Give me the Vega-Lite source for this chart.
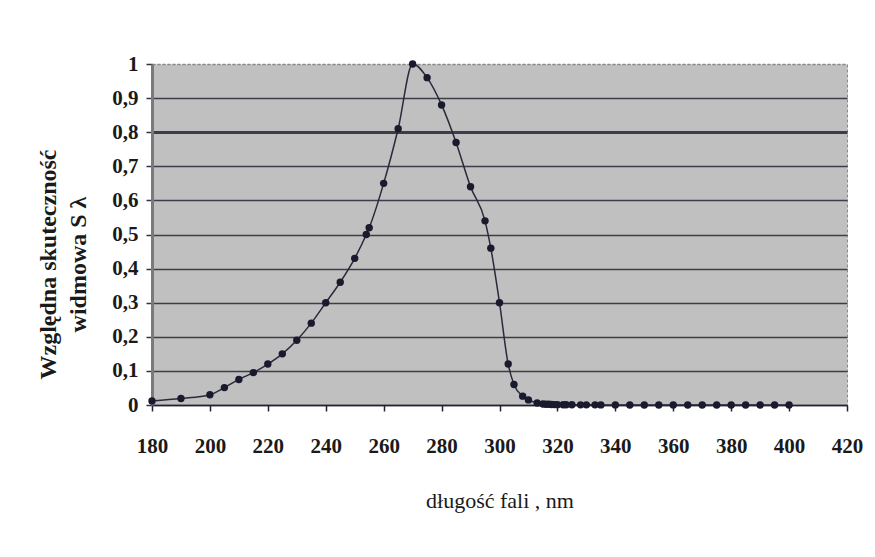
{
  "$schema": "https://vega.github.io/schema/vega-lite/v6.json",
  "width": 695,
  "height": 341,
  "autosize": {"type": "none"},
  "padding": {"left": 152, "top": 64, "right": 28, "bottom": 152},
  "background": "white",
  "config": {
    "font": "Liberation Serif",
    "view": {"fill": "#c0c0c0", "stroke": "#8a8a8a", "strokeDash": [3, 2], "strokeWidth": 1}
  },
  "data": {
    "values": [
      {"nm": 180, "S": 0.012}, {"nm": 190, "S": 0.019}, {"nm": 200, "S": 0.03},
      {"nm": 205, "S": 0.051}, {"nm": 210, "S": 0.075}, {"nm": 215, "S": 0.095},
      {"nm": 220, "S": 0.12}, {"nm": 225, "S": 0.15}, {"nm": 230, "S": 0.19},
      {"nm": 235, "S": 0.24}, {"nm": 240, "S": 0.3}, {"nm": 245, "S": 0.36},
      {"nm": 250, "S": 0.43}, {"nm": 254, "S": 0.5}, {"nm": 255, "S": 0.52},
      {"nm": 260, "S": 0.65}, {"nm": 265, "S": 0.81}, {"nm": 270, "S": 1.0},
      {"nm": 275, "S": 0.96}, {"nm": 280, "S": 0.88}, {"nm": 285, "S": 0.77},
      {"nm": 290, "S": 0.64}, {"nm": 295, "S": 0.54}, {"nm": 297, "S": 0.46},
      {"nm": 300, "S": 0.3}, {"nm": 303, "S": 0.12}, {"nm": 305, "S": 0.06},
      {"nm": 308, "S": 0.026}, {"nm": 310, "S": 0.015}, {"nm": 313, "S": 0.006},
      {"nm": 315, "S": 0.003}, {"nm": 316, "S": 0.0024}, {"nm": 317, "S": 0.002},
      {"nm": 318, "S": 0.0016}, {"nm": 319, "S": 0.0012}, {"nm": 320, "S": 0.001},
      {"nm": 322, "S": 0.00067}, {"nm": 323, "S": 0.00054}, {"nm": 325, "S": 0.0005},
      {"nm": 328, "S": 0.00044}, {"nm": 330, "S": 0.00041}, {"nm": 333, "S": 0.00037},
      {"nm": 335, "S": 0.00034}, {"nm": 340, "S": 0.00028}, {"nm": 345, "S": 0.00024},
      {"nm": 350, "S": 0.0002}, {"nm": 355, "S": 0.00016}, {"nm": 360, "S": 0.00013},
      {"nm": 365, "S": 0.00011}, {"nm": 370, "S": 0.000093}, {"nm": 375, "S": 0.000077},
      {"nm": 380, "S": 0.000064}, {"nm": 385, "S": 0.000053}, {"nm": 390, "S": 0.000044},
      {"nm": 395, "S": 0.000036}, {"nm": 400, "S": 0.00003}
    ]
  },
  "encoding": {
    "x": {
      "field": "nm",
      "type": "quantitative",
      "scale": {"domain": [180, 420], "nice": false, "zero": false},
      "axis": {
        "values": [180, 200, 220, 240, 260, 280, 300, 320, 340, 360, 380, 400, 420],
        "grid": false,
        "labelFlush": false,
        "labelOverlap": false,
        "tickSize": 6,
        "tickColor": "#222233",
        "tickWidth": 1.5,
        "domainColor": "#222233",
        "domainWidth": 1.5,
        "labelFont": "Liberation Serif",
        "labelFontSize": 21,
        "labelFontWeight": "bold",
        "labelColor": "#1a1a1a",
        "labelPadding": 24,
        "title": "długość fali , nm",
        "titleFont": "Liberation Serif",
        "titleFontSize": 22,
        "titleFontWeight": "normal",
        "titleColor": "#1a1a1a",
        "titlePadding": 34
      }
    },
    "y": {
      "field": "S",
      "type": "quantitative",
      "scale": {"domain": [0, 1], "nice": false},
      "axis": {
        "values": [0, 0.1, 0.2, 0.3, 0.4, 0.5, 0.6, 0.7, 0.8, 0.9, 1],
        "labelExpr": "replace(format(datum.value, '~g'), '.', ',')",
        "labelOverlap": false,
        "labelFlush": false,
        "grid": true,
        "gridColor": {"condition": {"test": "datum.value == 1", "value": "#8a8a8a"}, "value": "#3c3c4a"},
        "gridWidth": {"condition": {"test": "datum.value == 0.8", "value": 3}, "value": 1.3},
        "gridDash": {"condition": {"test": "datum.value == 1", "value": [3, 2]}, "value": []},
        "tickSize": 6,
        "tickColor": "#333340",
        "tickWidth": 1.5,
        "domainColor": "#7a7a7a",
        "domainWidth": 3,
        "labelFont": "Liberation Serif",
        "labelFontSize": 21,
        "labelFontWeight": "bold",
        "labelColor": "#1a1a1a",
        "labelPadding": 8,
        "title": ["Względna skuteczność", "widmowa S λ"],
        "titleFont": "Liberation Serif",
        "titleFontSize": 24,
        "titleFontWeight": "bold",
        "titleColor": "#1a1a1a",
        "titleLineHeight": 30,
        "titleX": -92,
        "titleY": 200
      }
    }
  },
  "layer": [
    {"mark": {"type": "line", "interpolate": "monotone", "color": "#2a2a3a", "strokeWidth": 1.5}},
    {"mark": {"type": "point", "filled": true, "shape": "circle", "size": 55, "color": "#1a1a2e", "opacity": 1}}
  ]
}
